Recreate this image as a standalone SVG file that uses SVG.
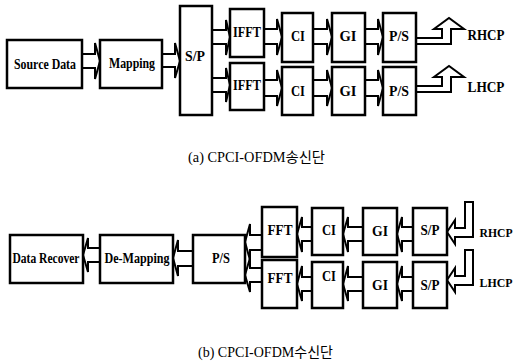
<svg xmlns="http://www.w3.org/2000/svg" width="518" height="364" viewBox="0 0 518 364">
<style>
.box{fill:#fff;stroke:#000;stroke-width:2.5}
.arr{fill:#fff;stroke:#000;stroke-width:2;stroke-linejoin:miter}
.lbl{font-family:"Liberation Serif",serif;font-weight:bold;font-size:15px;fill:#000;text-anchor:middle}
.sm{font-size:12px}
.cap{font-family:"Liberation Serif","Noto Sans CJK KR",serif;font-size:14px;fill:#000}
</style>
<rect width="518" height="364" fill="#fff"/>
<g id="connectors">
<polyline class="arr" points="82,54 95,54 95,43 100,61 95,79 95,68 82,68"/>
<polyline class="arr" points="162,54 175,54 175,43 180,61 175,78 175,67 162,67"/>
<polyline class="arr" points="212,30 226,30 226,20 230,37 226,55 226,44 212,44"/>
<polyline class="arr" points="212,78 226,78 226,68 230,85 226,102 226,92 212,92"/>
<polyline class="arr" points="264,29 277,29 277,19 282,37 277,55 277,44 264,44"/>
<polyline class="arr" points="313,29 327,29 327,19 332,37 327,55 327,44 313,44"/>
<polyline class="arr" points="365,29 378,29 378,19 383,37 378,55 378,44 365,44"/>
<polyline class="arr" points="264,80 277,80 277,70 282,88 277,106 277,96 264,96"/>
<polyline class="arr" points="313,80 327,80 327,70 332,88 327,106 327,96 313,96"/>
<polyline class="arr" points="365,80 378,80 378,70 383,88 378,106 378,96 365,96"/>
<polygon class="arr" points="416,38 442,38 442,29 434,29 449,18 464,29 451,29 451,44 416,44"/>
<polygon class="arr" points="416,86 442,86 442,77 434,77 449,66 464,77 451,77 451,92 416,92"/>
<polyline class="arr" points="413,227 402,227 402,217 397,234 402,252 402,241 413,241"/>
<polyline class="arr" points="363,227 348,227 348,217 343,234 348,252 348,241 363,241"/>
<polyline class="arr" points="312,227 302,227 302,217 297,234 302,252 302,241 312,241"/>
<polyline class="arr" points="413,277 402,277 402,266 397,284 402,301 402,291 413,291"/>
<polyline class="arr" points="363,277 348,277 348,266 343,284 348,301 348,291 363,291"/>
<polyline class="arr" points="312,277 302,277 302,266 297,284 302,301 302,291 312,291"/>
<polyline class="arr" points="262,235 250,235 250,224 245,242 250,260 250,250 262,250"/>
<polyline class="arr" points="262,268 250,268 250,258 245,275 250,292 250,282 262,282"/>
<polyline class="arr" points="193,251 178,251 178,240 173,258 178,276 178,266 193,266"/>
<polyline class="arr" points="100,248 88,248 88,238 83,255 88,272 88,262 100,262"/>
<polygon class="arr" points="465,202 473,202 473,237 455,237 455,244 447,232 455,220 455,228 465,228"/>
<polygon class="arr" points="465,250 473,250 473,285 455,285 455,292 447,280 455,268 455,276 465,276"/>
</g>
<g id="source-data"><rect class="box" x="7" y="40" width="75" height="48"/><text class="lbl" x="45" y="69" textLength="62" lengthAdjust="spacingAndGlyphs">Source Data</text></g>
<g id="mapping"><rect class="box" x="100" y="40" width="62" height="48"/><text class="lbl" x="132" y="68" textLength="46" lengthAdjust="spacingAndGlyphs">Mapping</text></g>
<g id="sp-tx"><rect class="box" x="180" y="6" width="32" height="109"/><text class="lbl" x="195" y="61" textLength="20" lengthAdjust="spacingAndGlyphs">S/P</text></g>
<g id="ifft-1"><rect class="box" x="230" y="9" width="34" height="48"/><text class="lbl" x="247" y="37" textLength="28" lengthAdjust="spacingAndGlyphs">IFFT</text></g>
<g id="ifft-2"><rect class="box" x="230" y="63" width="34" height="47"/><text class="lbl" x="247" y="90" textLength="28" lengthAdjust="spacingAndGlyphs">IFFT</text></g>
<g id="ci-tx-1"><rect class="box" x="282" y="13" width="31" height="49"/><text class="lbl" x="298" y="41" textLength="14" lengthAdjust="spacingAndGlyphs">CI</text></g>
<g id="gi-tx-1"><rect class="box" x="332" y="13" width="33" height="49"/><text class="lbl" x="348" y="41" textLength="17" lengthAdjust="spacingAndGlyphs">GI</text></g>
<g id="ps-tx-1"><rect class="box" x="383" y="13" width="33" height="49"/><text class="lbl" x="399" y="41" textLength="20" lengthAdjust="spacingAndGlyphs">P/S</text></g>
<g id="ci-tx-2"><rect class="box" x="282" y="67" width="31" height="48"/><text class="lbl" x="298" y="96" textLength="14" lengthAdjust="spacingAndGlyphs">CI</text></g>
<g id="gi-tx-2"><rect class="box" x="332" y="67" width="33" height="48"/><text class="lbl" x="348" y="96" textLength="17" lengthAdjust="spacingAndGlyphs">GI</text></g>
<g id="ps-tx-2"><rect class="box" x="383" y="67" width="33" height="48"/><text class="lbl" x="399" y="96" textLength="20" lengthAdjust="spacingAndGlyphs">P/S</text></g>
<g id="rhcp-tx"><text class="lbl" x="486" y="40" textLength="37" lengthAdjust="spacingAndGlyphs">RHCP</text></g>
<g id="lhcp-tx"><text class="lbl" x="486" y="92" textLength="37" lengthAdjust="spacingAndGlyphs">LHCP</text></g>
<g id="caption-a"><text class="cap" x="188" y="162" textLength="137" lengthAdjust="spacingAndGlyphs">(a) CPCI-OFDM송신단</text></g>
<g id="data-recover"><rect class="box" x="10" y="235" width="73" height="48"/><text class="lbl" x="46" y="263" textLength="67" lengthAdjust="spacingAndGlyphs">Data Recover</text></g>
<g id="de-mapping"><rect class="box" x="100" y="235" width="73" height="48"/><text class="lbl" x="137" y="263" textLength="65" lengthAdjust="spacingAndGlyphs">De-Mapping</text></g>
<g id="ps-rx"><rect class="box" x="193" y="235" width="52" height="48"/><text class="lbl" x="221" y="263" textLength="18" lengthAdjust="spacingAndGlyphs">P/S</text></g>
<g id="fft-1"><rect class="box" x="262" y="207" width="35" height="50"/><text class="lbl" x="280" y="235" textLength="25" lengthAdjust="spacingAndGlyphs">FFT</text></g>
<g id="fft-2"><rect class="box" x="262" y="260" width="35" height="48"/><text class="lbl" x="280" y="283" textLength="25" lengthAdjust="spacingAndGlyphs">FFT</text></g>
<g id="ci-rx-1"><rect class="box" x="312" y="208" width="31" height="47"/><text class="lbl" x="329" y="235" textLength="14" lengthAdjust="spacingAndGlyphs">CI</text></g>
<g id="gi-rx-1"><rect class="box" x="363" y="208" width="34" height="47"/><text class="lbl" x="380" y="236" textLength="16" lengthAdjust="spacingAndGlyphs">GI</text></g>
<g id="sp-rx-1"><rect class="box" x="413" y="208" width="34" height="47"/><text class="lbl" x="430" y="235" textLength="19" lengthAdjust="spacingAndGlyphs">S/P</text></g>
<g id="ci-rx-2"><rect class="box" x="312" y="262" width="31" height="46"/><text class="lbl" x="329" y="281" textLength="14" lengthAdjust="spacingAndGlyphs">CI</text></g>
<g id="gi-rx-2"><rect class="box" x="363" y="262" width="34" height="46"/><text class="lbl" x="380" y="290" textLength="16" lengthAdjust="spacingAndGlyphs">GI</text></g>
<g id="sp-rx-2"><rect class="box" x="413" y="262" width="34" height="46"/><text class="lbl" x="430" y="290" textLength="19" lengthAdjust="spacingAndGlyphs">S/P</text></g>
<g id="rhcp-rx"><text class="lbl sm" x="496" y="237" textLength="33" lengthAdjust="spacingAndGlyphs">RHCP</text></g>
<g id="lhcp-rx"><text class="lbl sm" x="496" y="287" textLength="33" lengthAdjust="spacingAndGlyphs">LHCP</text></g>
<g id="caption-b"><text class="cap" x="198" y="357" textLength="135" lengthAdjust="spacingAndGlyphs">(b) CPCI-OFDM수신단</text></g>
</svg>
